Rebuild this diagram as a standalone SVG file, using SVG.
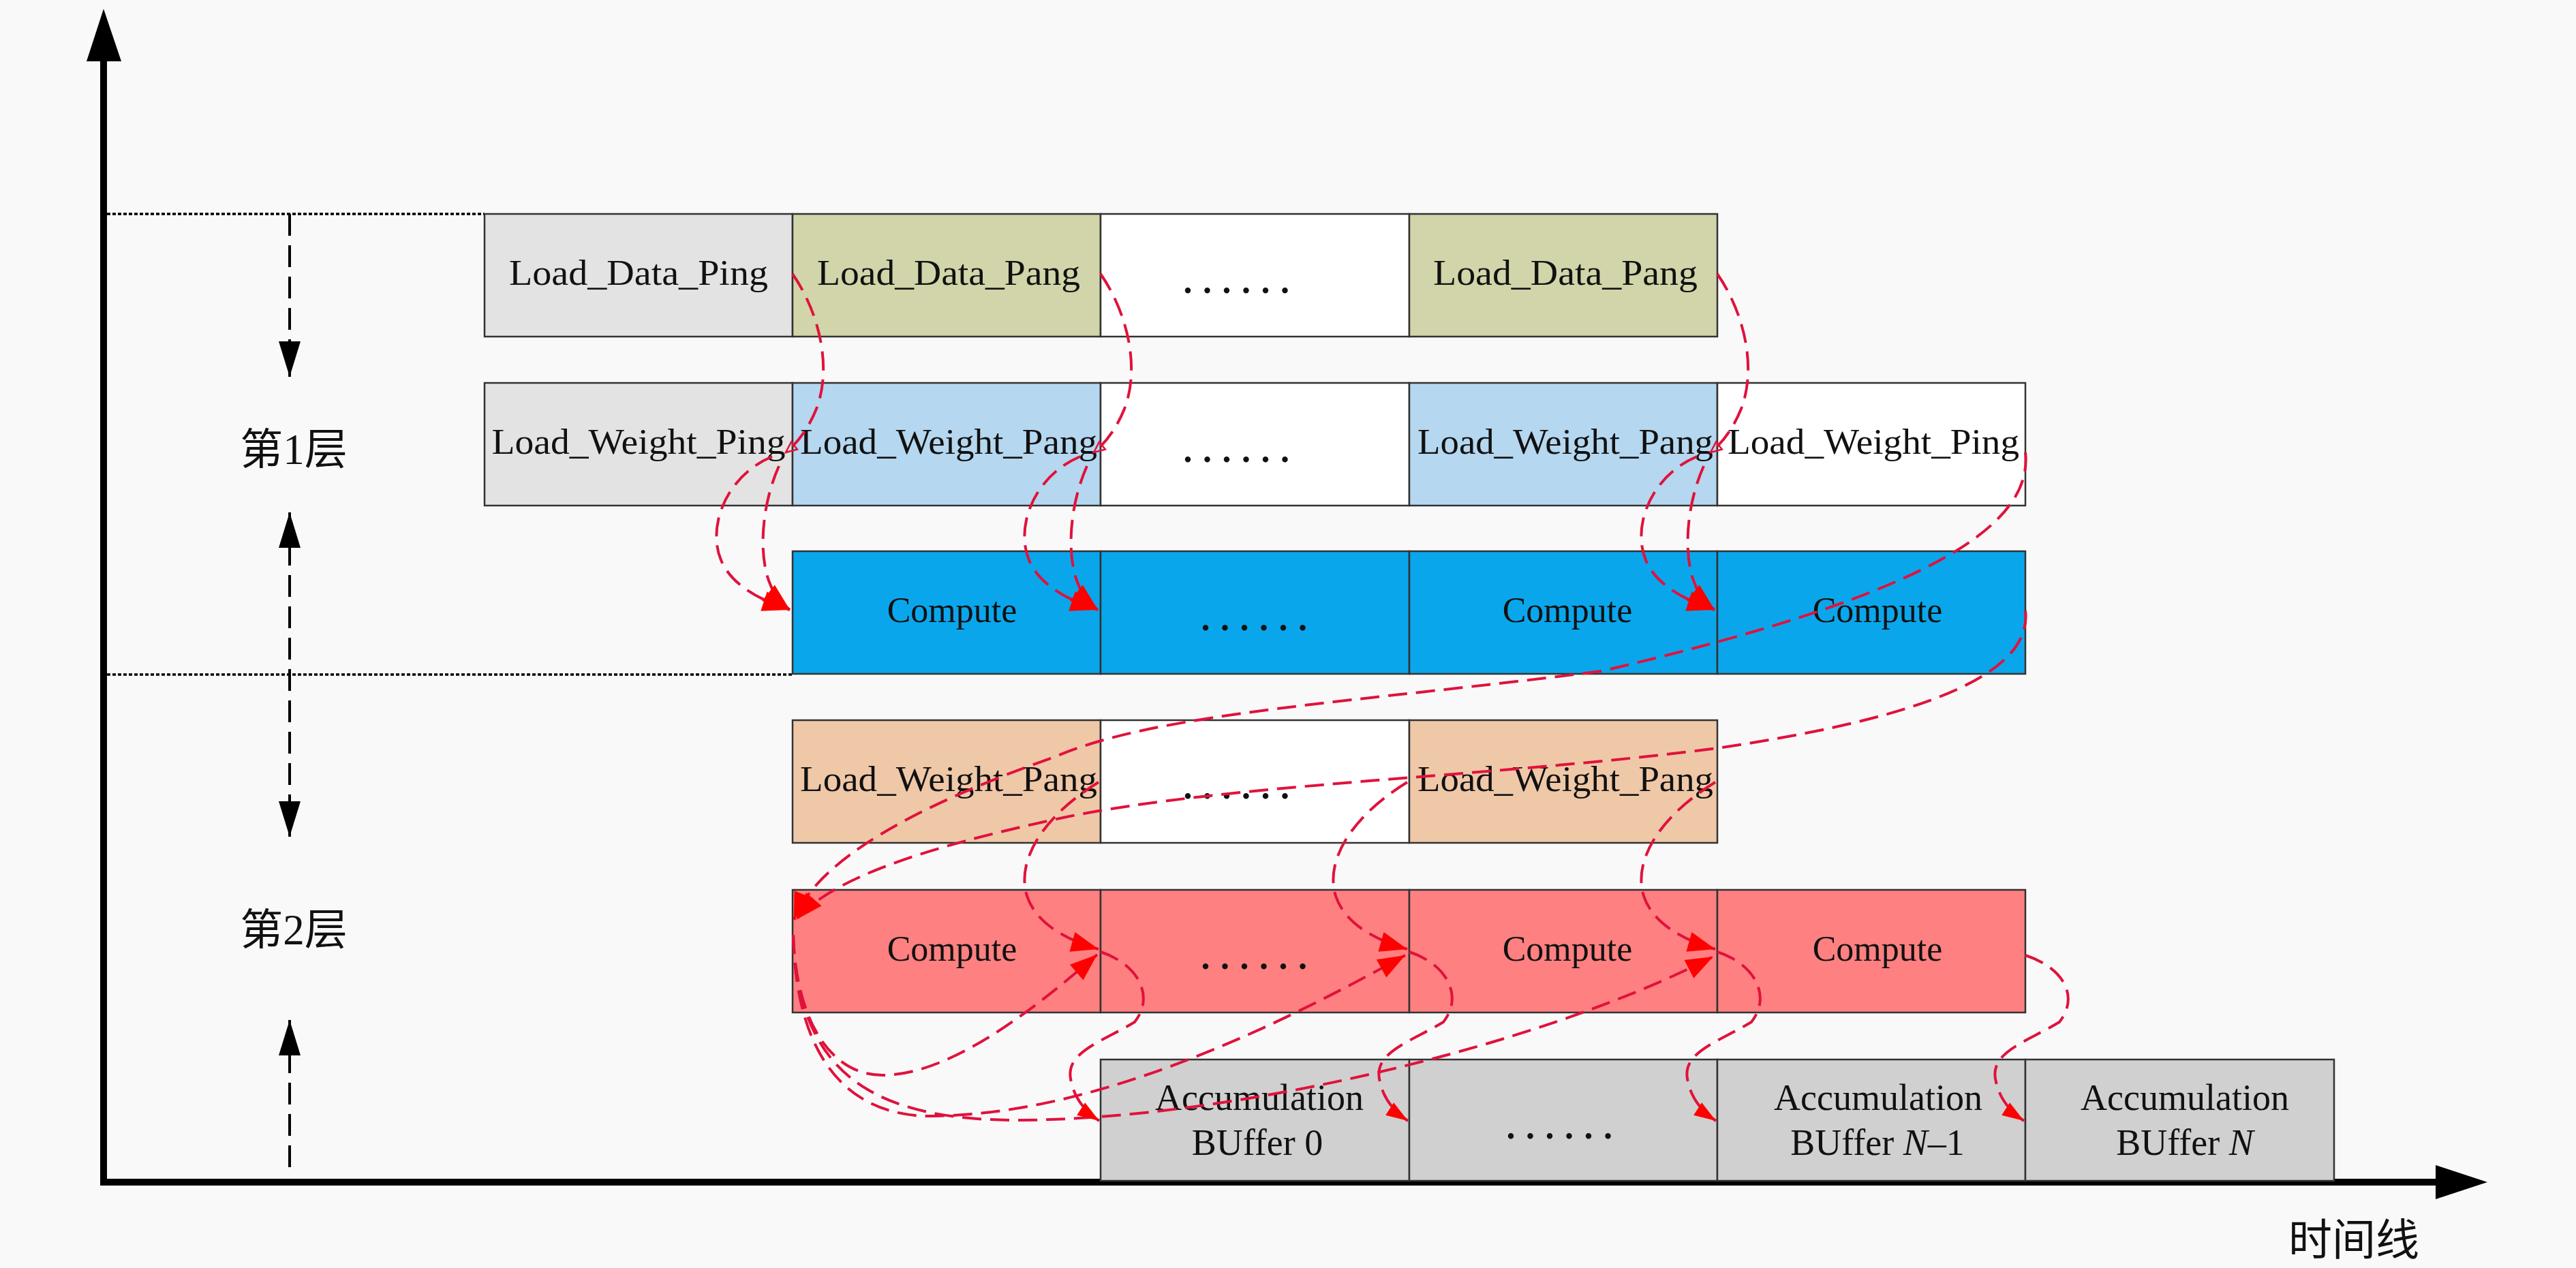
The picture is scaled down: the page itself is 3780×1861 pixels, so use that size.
<svg xmlns="http://www.w3.org/2000/svg" width="3780" height="1861" viewBox="0 0 3780 1861">
<defs>
<style>
.bx{stroke:#333;stroke-width:2.5}
.t{font-family:'Liberation Serif','Times New Roman',serif;font-size:52px;fill:#111;text-anchor:middle}
.ta{font-family:'Liberation Serif','Times New Roman',serif;font-size:54px;fill:#111;text-anchor:middle}
.dots{font-family:'Liberation Serif','Times New Roman',serif;font-size:72px;fill:#111;letter-spacing:10.5px}
.cjk{font-family:'Liberation Serif','Noto Sans CJK SC',sans-serif;font-size:63px;fill:#111;text-anchor:middle}
.rd{fill:none;stroke:#e0123c;stroke-width:4;stroke-dasharray:28 13}
.bd{fill:none;stroke:#000;stroke-width:4;stroke-dasharray:32 14}
.dt{fill:none;stroke:#000;stroke-width:3.5;stroke-dasharray:5 3}
.ax{stroke:#000;stroke-width:10}
</style>
<marker id="ah" markerUnits="userSpaceOnUse" markerWidth="44" markerHeight="34" refX="40" refY="15" orient="auto" overflow="visible"><path d="M0,0 L40,15 L0,30 z" fill="#ff0000"/></marker>
<marker id="as" markerUnits="userSpaceOnUse" markerWidth="34" markerHeight="24" refX="32" refY="11" orient="auto" overflow="visible"><path d="M0,0 L32,11 L0,22 z" fill="#ff0000"/></marker>
<marker id="ao" markerUnits="userSpaceOnUse" markerWidth="20" markerHeight="16" refX="16" refY="7" orient="auto" overflow="visible"><path d="M0,0 L16,7 L0,14 z" fill="none" stroke="#e0123c" stroke-width="2.5"/></marker>
<marker id="bk" markerUnits="userSpaceOnUse" markerWidth="54" markerHeight="34" refX="52" refY="16" orient="auto-start-reverse" overflow="visible"><path d="M0,0 L52,16 L0,32 z" fill="#000"/></marker>
</defs>
<rect x="0" y="0" width="3780" height="1861" fill="#f9f9f9"/>

<g id="axes">
<line class="ax" x1="152" y1="1735" x2="152" y2="85"/>
<polygon points="152,13 127,90 178,90" fill="#000"/>
<line class="ax" x1="147" y1="1735" x2="3580" y2="1735"/>
<polygon points="3650,1735 3574,1710 3574,1760" fill="#000"/>
<text x="3454" y="1842" class="cjk" style="font-size:64px">时间线</text>
</g>

<g id="layer-marks">
<path class="dt" d="M157,314 H711"/>
<path class="dt" d="M157,990 H1163"/>
<path class="bd" d="M425,314 V553" marker-end="url(#bk)"/>
<path class="bd" d="M425,752 V1228" marker-start="url(#bk)" marker-end="url(#bk)"/>
<path class="bd" d="M425,1713 V1497" marker-end="url(#bk)"/>
<text class="cjk" x="431" y="681">第1层</text>
<text class="cjk" x="431" y="1386">第2层</text>
</g>

<!-- Row 1 -->
<g id="r1c0"><rect class="bx" x="711" y="314" width="452" height="180" fill="#e3e3e3"/><text class="t" x="937" y="418" textLength="380" lengthAdjust="spacingAndGlyphs">Load_Data_Ping</text></g>
<g id="r1c1"><rect class="bx" x="1163" y="314" width="452" height="180" fill="#d1d5a9"/><text class="t" x="1392" y="418" textLength="386" lengthAdjust="spacingAndGlyphs">Load_Data_Pang</text></g>
<g id="r1c2"><rect class="bx" x="1615" y="314" width="453" height="180" fill="#ffffff"/><text class="dots" x="1734" y="430">......</text></g>
<g id="r1c3"><rect class="bx" x="2068" y="314" width="452" height="180" fill="#d1d5a9"/><text class="t" x="2297" y="418" textLength="388" lengthAdjust="spacingAndGlyphs">Load_Data_Pang</text></g>

<!-- Row 2 -->
<g id="r2c0"><rect class="bx" x="711" y="562" width="452" height="180" fill="#e3e3e3"/><text class="t" x="937" y="666" textLength="431" lengthAdjust="spacingAndGlyphs">Load_Weight_Ping</text></g>
<g id="r2c1"><rect class="bx" x="1163" y="562" width="452" height="180" fill="#b5d7ef"/><text class="t" x="1392" y="666" textLength="436" lengthAdjust="spacingAndGlyphs">Load_Weight_Pang</text></g>
<g id="r2c2"><rect class="bx" x="1615" y="562" width="453" height="180" fill="#ffffff"/><text class="dots" x="1734" y="678">......</text></g>
<g id="r2c3"><rect class="bx" x="2068" y="562" width="452" height="180" fill="#b5d7ef"/><text class="t" x="2297" y="666" textLength="434" lengthAdjust="spacingAndGlyphs">Load_Weight_Pang</text></g>
<g id="r2c4"><rect class="bx" x="2520" y="562" width="452" height="180" fill="#ffffff"/><text class="t" x="2749" y="666" textLength="428" lengthAdjust="spacingAndGlyphs">Load_Weight_Ping</text></g>

<!-- Row 3 -->
<g id="r3c1"><rect class="bx" x="1163" y="809" width="452" height="180" fill="#0aa6ec"/><text class="t" x="1397" y="913">Compute</text></g>
<g id="r3c2"><rect class="bx" x="1615" y="809" width="453" height="180" fill="#0aa6ec"/><text class="dots" x="1760" y="925">......</text></g>
<g id="r3c3"><rect class="bx" x="2068" y="809" width="452" height="180" fill="#0aa6ec"/><text class="t" x="2300" y="913">Compute</text></g>
<g id="r3c4"><rect class="bx" x="2520" y="809" width="452" height="180" fill="#0aa6ec"/><text class="t" x="2755" y="913">Compute</text></g>

<!-- Row 4 -->
<g id="r4c1"><rect class="bx" x="1163" y="1057" width="452" height="180" fill="#efc8a8"/><text class="t" x="1392" y="1161" textLength="436" lengthAdjust="spacingAndGlyphs">Load_Weight_Pang</text></g>
<g id="r4c2"><rect class="bx" x="1615" y="1057" width="453" height="180" fill="#ffffff"/><text class="dots" x="1734" y="1172">......</text></g>
<g id="r4c3"><rect class="bx" x="2068" y="1057" width="452" height="180" fill="#efc8a8"/><text class="t" x="2297" y="1161" textLength="434" lengthAdjust="spacingAndGlyphs">Load_Weight_Pang</text></g>

<!-- Row 5 -->
<g id="r5c1"><rect class="bx" x="1163" y="1306" width="452" height="180" fill="#ff8080"/><text class="t" x="1397" y="1410">Compute</text></g>
<g id="r5c2"><rect class="bx" x="1615" y="1306" width="453" height="180" fill="#ff8080"/><text class="dots" x="1760" y="1422">......</text></g>
<g id="r5c3"><rect class="bx" x="2068" y="1306" width="452" height="180" fill="#ff8080"/><text class="t" x="2300" y="1410">Compute</text></g>
<g id="r5c4"><rect class="bx" x="2520" y="1306" width="452" height="180" fill="#ff8080"/><text class="t" x="2755" y="1410">Compute</text></g>

<!-- Row 6 -->
<g id="r6c2"><rect class="bx" x="1615" y="1555" width="453" height="178" fill="#d0d0d0"/><text class="ta" x="1848" y="1629">Accumulation</text><text class="ta" x="1845" y="1695">BUffer 0</text></g>
<g id="r6c3"><rect class="bx" x="2068" y="1555" width="452" height="178" fill="#d0d0d0"/><text class="dots" x="2208" y="1671">......</text></g>
<g id="r6c4"><rect class="bx" x="2520" y="1555" width="452" height="178" fill="#d0d0d0"/><text class="ta" x="2756" y="1629">Accumulation</text><text class="ta" x="2755" y="1695">BUffer <tspan font-style="italic">N</tspan>–1</text></g>
<g id="r6c5"><rect class="bx" x="2972" y="1555" width="453" height="178" fill="#d0d0d0"/><text class="ta" x="3206" y="1629">Accumulation</text><text class="ta" x="3206" y="1695">BUffer <tspan font-style="italic">N</tspan></text></g>

<g id="connectors">
<!-- layer 1: data -> weight end -->
<path class="rd" d="M1163,402 C1203,460 1221,540 1198,600 C1185,632 1168,652 1153,664" marker-end="url(#ao)"/>
<path class="rd" d="M1615,402 C1655,460 1673,540 1650,600 C1637,632 1620,652 1605,664" marker-end="url(#ao)"/>
<path class="rd" d="M2520,402 C2560,460 2578,540 2555,600 C2542,632 2525,652 2510,664" marker-end="url(#ao)"/>
<!-- layer 1: to compute -->
<path class="rd" d="M1133,670 C1063,700 1038,775 1058,822 C1073,858 1113,880 1159,895" marker-end="url(#ah)"/>
<path class="rd" d="M1143,684 C1118,740 1113,810 1128,852 C1135,872 1145,884 1159,895" marker-end="url(#ah)"/>
<path class="rd" d="M1585,670 C1515,700 1490,775 1510,822 C1525,858 1565,880 1611,895" marker-end="url(#ah)"/>
<path class="rd" d="M1595,684 C1570,740 1565,810 1580,852 C1587,872 1597,884 1611,895" marker-end="url(#ah)"/>
<path class="rd" d="M2490,670 C2420,700 2395,775 2415,822 C2430,858 2470,880 2516,895" marker-end="url(#ah)"/>
<path class="rd" d="M2500,684 C2475,740 2470,810 2485,852 C2492,872 2502,884 2516,895" marker-end="url(#ah)"/>
<!-- long connectors to layer 2 -->
<path class="rd" d="M2972,664 C2985,780 2800,880 2350,985 C2000,1030 1700,1045 1550,1110 C1350,1180 1200,1260 1165,1350" marker-end="url(#ah)"/>
<path class="rd" d="M2972,896 C2985,1000 2780,1060 2520,1098 C2200,1140 1800,1150 1560,1200 C1350,1245 1220,1290 1168,1350" marker-end="url(#ah)"/>
<!-- layer 2: weight -> compute -->
<path class="rd" d="M1612,1148 C1535,1195 1490,1260 1507,1315 C1520,1355 1565,1380 1612,1393" marker-end="url(#ah)"/>
<path class="rd" d="M2065,1148 C1988,1195 1943,1260 1960,1315 C1973,1355 2018,1380 2065,1393" marker-end="url(#ah)"/>
<path class="rd" d="M2517,1148 C2440,1195 2395,1260 2412,1315 C2425,1355 2470,1380 2517,1393" marker-end="url(#ah)"/>
<!-- layer 2: loops from first compute -->
<path class="rd" d="M1164,1372 C1168,1500 1220,1578 1295,1578 C1400,1578 1530,1470 1610,1401" marker-end="url(#ah)"/>
<path class="rd" d="M1164,1372 C1168,1560 1250,1640 1370,1638 C1600,1635 1850,1520 2062,1402" marker-end="url(#ah)"/>
<path class="rd" d="M1164,1372 C1170,1590 1300,1645 1500,1644 C1800,1642 2250,1540 2514,1404" marker-end="url(#ah)"/>
<!-- layer 2: compute -> accumulation -->
<path class="rd" d="M1615,1397 C1670,1415 1695,1462 1665,1500 C1615,1530 1560,1545 1572,1588 C1577,1612 1593,1632 1613,1645" marker-end="url(#as)"/>
<path class="rd" d="M2068,1397 C2123,1415 2148,1462 2118,1500 C2068,1530 2013,1545 2025,1588 C2030,1612 2046,1632 2066,1645" marker-end="url(#as)"/>
<path class="rd" d="M2520,1397 C2575,1415 2600,1462 2570,1500 C2520,1530 2465,1545 2477,1588 C2482,1612 2498,1632 2518,1645" marker-end="url(#as)"/>
<path class="rd" d="M2972,1402 C3027,1420 3052,1462 3022,1500 C2972,1530 2917,1545 2929,1588 C2934,1612 2950,1632 2970,1645" marker-end="url(#as)"/>
</g>
</svg>
